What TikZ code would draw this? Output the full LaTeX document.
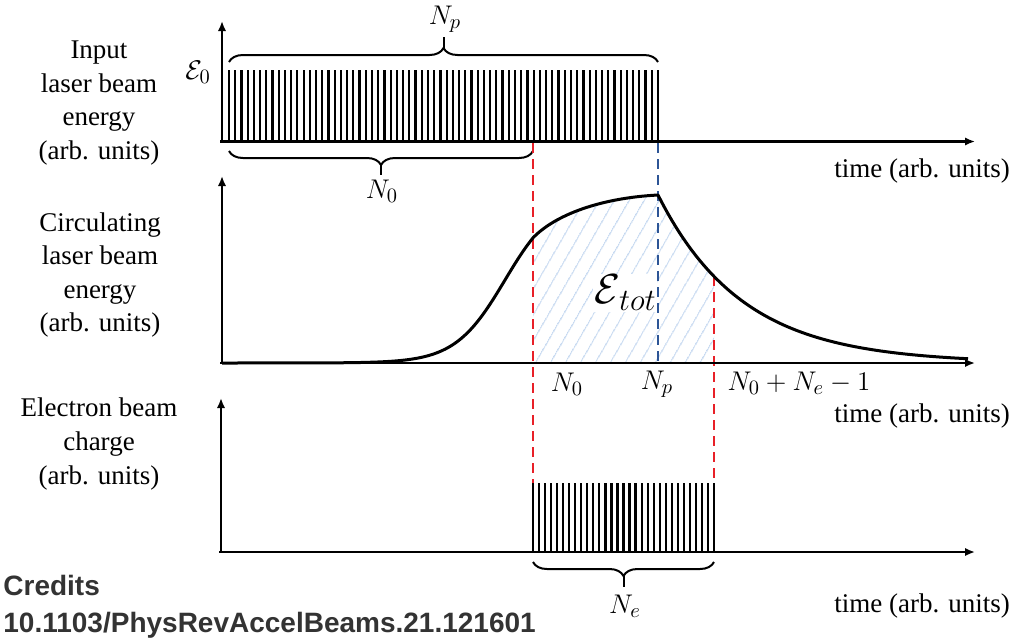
\RequirePackage{fix-cm}
\documentclass[tikz,border=0pt]{standalone}
\usepackage{fontspec}
\setmainfont{Liberation Serif}
\newfontfamily\lserif{Liberation Serif}
\newfontfamily\credfont{Liberation Sans}
\DeclareMathSizes{13.5}{13.5}{10.2}{8}
\usetikzlibrary{arrows.meta,decorations.pathreplacing,patterns.meta}
\definecolor{dred}{RGB}{232,32,40}
\definecolor{dblue}{RGB}{45,85,150}
\definecolor{hatchblue}{RGB}{165,195,232}
\definecolor{credgray}{RGB}{51,51,51}
\begin{document}
\begin{tikzpicture}[x=0.5pt,y=-0.5pt,
  axis/.style={line width=1.4pt,-{Latex[length=5pt,width=4.2pt]}},
  pulse/.style={line width=1.1pt},
  curve/.style={line width=1.5pt,line join=round},
  reddash/.style={dred,line width=1.1pt,dash pattern=on 5pt off 3pt},
  bluedash/.style={dblue,line width=1.1pt,dash pattern=on 5pt off 3pt},
  lbl/.style={font=\lserif\fontsize{13.5}{16.8}\selectfont,align=center,inner sep=0pt},
  mth/.style={font=\fontsize{13.5}{16}\selectfont,inner sep=0pt},
  br/.style={decorate,decoration={brace,amplitude=7pt},line width=1pt},
  stem/.style={line width=1pt},
  cred/.style={anchor=base west,inner sep=0pt,text=credgray,font=\credfont\bfseries\fontsize{14}{14}\selectfont},
]
\useasboundingbox (0,0) rectangle (1020,638);

% ---------- top panel ----------
\foreach \i in {0,...,69}
  \draw[pulse] ({229+\i*6.2174},141.5) -- ({229+\i*6.2174},70);
\draw[axis] (222,141.5) -- (222,21);
\draw[axis] (220,141.5) -- (975,141.5);
\node[mth] (e0) at (198,72) {$\mathcal{E}_0$};
\draw[br] (229,62) -- (658,62);
\draw[stem] (443.5,48) -- (443.5,37);
\node[mth] (np1) at (445,19) {$N_p$};
\draw[br] (533,151) -- (229,151);
\draw[stem] (381,165) -- (381,175);
\node[mth] (n01) at (382,191) {$N_0$};
\node[lbl] (lab1) at (99,103) {Input\\laser beam\\energy\\(arb. units)};
\node[lbl] (t1) at (922,171) {time (arb. units)};

% ---------- middle panel ----------
\fill[pattern={Lines[angle=60,distance=6.5pt,line width=0.5pt]},pattern color=hatchblue]
  (533,363) -- (533,237.2) .. controls (555,215) and (600,198) .. (658,195)
  -- plot[domain=658:714,samples=30] (\x,{363-168*exp(-(\x-658)/84.5)})
  -- (714,363) -- cycle;
\draw[reddash] (533,143) -- (533,483);
\draw[bluedash] (658,143) -- (658,363);
\draw[reddash] (714,276) -- (714,483);
\draw[axis] (222,363) -- (222,176);
\draw[curve] (222,363) -- plot[domain=310:533,samples=90] (\x,{363-166/(1+exp(-(\x-505)/25))})
  .. controls (555,215) and (600,198) .. (658,195)
  -- plot[domain=658:968,samples=90] (\x,{363-168*exp(-(\x-658)/84.5)});
\draw[axis] (220,363) -- (975,363);
\node[fill=white,inner sep=0.5pt] (etot) at (625,293)
  {\fontsize{21}{21}\selectfont$\mathcal{E}$\kern-0.5pt\raisebox{-3.5pt}{\fontsize{15.5}{15.5}\selectfont$tot$}};
\node[mth] (n02) at (567,384) {$N_0$};
\node[mth] (np2) at (657,384) {$N_p$};
\node[mth] (nsum) at (799,383) {$N_0+N_e-1$};
\node[lbl] (lab2) at (100,275) {Circulating\\laser beam\\energy\\(arb. units)};
\node[lbl] (t2) at (922,416) {time (arb. units)};

% ---------- bottom panel ----------
\foreach \i in {0,...,30}
  \draw[pulse] ({533+\i*6.0333},552) -- ({533+\i*6.0333},483);
\draw[axis] (221,552) -- (221,398);
\draw[axis] (219,552) -- (975,552);
\draw[br] (714,562) -- (533,562);
\draw[stem] (623.5,576) -- (623.5,587);
\node[mth] (ne) at (625,606) {$N_e$};
\node[lbl] (lab3) at (99,444) {Electron beam\\charge\\(arb. units)};
\node[lbl] (t3) at (922,606) {time (arb. units)};

% ---------- credits ----------
\node[cred] (cr1) at (3,595) {Credits};
\node[cred] (cr2) at (3,632) {10.1103/PhysRevAccelBeams.21.121601};
\end{tikzpicture}
\end{document}
